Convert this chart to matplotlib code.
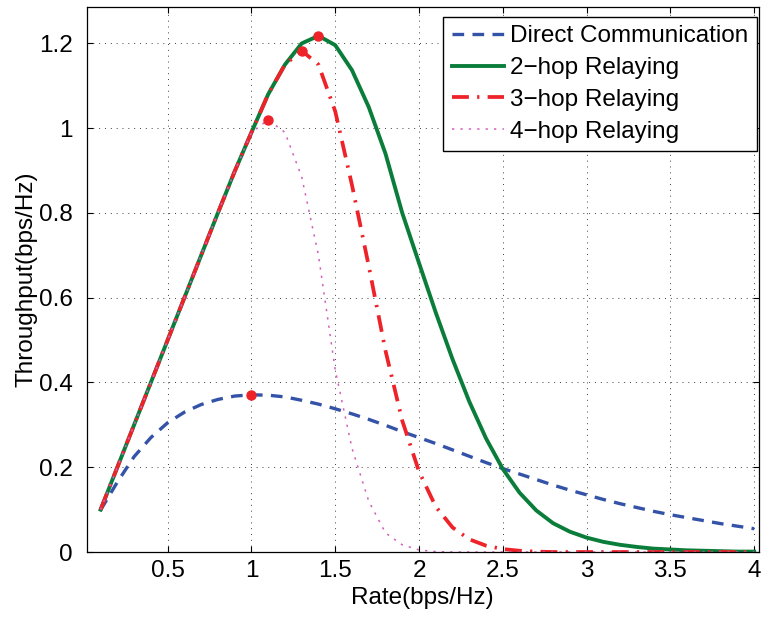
import numpy as np
import matplotlib
matplotlib.use('Agg')
import matplotlib.pyplot as plt
from matplotlib.ticker import FormatStrFormatter

# rate axis, 0.1 .. 4.0 (bps/Hz)
rate = np.round(np.arange(1, 41) * 0.1, 1)

# throughput curves
direct = [0.099, 0.165, 0.225, 0.27, 0.305, 0.33, 0.348, 0.36, 0.368, 0.371,
          0.37, 0.366, 0.358, 0.349, 0.338, 0.326, 0.313, 0.299, 0.284, 0.27,
          0.256, 0.241, 0.226, 0.211, 0.197, 0.184, 0.171, 0.158, 0.146, 0.135,
          0.124, 0.114, 0.105, 0.096, 0.088, 0.081, 0.074, 0.067, 0.061, 0.055]
hop2 = [0.1, 0.2, 0.3, 0.4, 0.5, 0.6, 0.7, 0.8, 0.898, 0.99,
        1.08, 1.15, 1.2, 1.218, 1.196, 1.137, 1.05, 0.94, 0.80, 0.682,
        0.565, 0.455, 0.355, 0.268, 0.196, 0.14, 0.098, 0.068, 0.048, 0.034,
        0.024, 0.017, 0.012, 0.008, 0.006, 0.004, 0.003, 0.002, 0.001, 0.001]
hop3 = [0.1, 0.2, 0.3, 0.4, 0.5, 0.6, 0.7, 0.8, 0.898, 0.99,
        1.08, 1.15, 1.183, 1.15, 1.04, 0.866, 0.675, 0.475, 0.31, 0.19,
        0.107, 0.058, 0.03, 0.015, 0.007, 0.003, 0.001, 0.0, 0.0, 0.0,
        0.0, 0.0, 0.0, 0.0, 0.0, 0.0, 0.0, 0.0, 0.0, 0.0]
hop4 = [0.1, 0.2, 0.3, 0.4, 0.5, 0.6, 0.7, 0.8, 0.898, 0.99,
        1.02, 0.99, 0.885, 0.70, 0.43, 0.245, 0.12, 0.045, 0.017, 0.005,
        0.001, 0.0, 0.0, 0.0, 0.0, 0.0, 0.0, 0.0, 0.0, 0.0,
        0.0, 0.0, 0.0, 0.0, 0.0, 0.0, 0.0, 0.0, 0.0, 0.0]

labels = ['Direct Communication', '2\u2212hop Relaying', '3\u2212hop Relaying', '4\u2212hop Relaying']
xticks = [0.5, 1, 1.5, 2, 2.5, 3, 3.5, 4]
yticks = [0, 0.2, 0.4, 0.6, 0.8, 1, 1.2]

plt.rcParams['font.family'] = ['Liberation Sans', 'DejaVu Sans']
plt.rcParams['font.size'] = 17.5

fig = plt.figure(figsize=(7.65, 6.19), dpi=100)
ax = fig.add_axes([0.1133, 0.1082, 0.8787, 0.8805])

ax.plot(rate, direct, color='#3453a8', lw=2.4, dashes=(3.5, 2.5), label=labels[0])
ax.plot(rate, hop2, color='#0b7d3b', lw=2.8, label=labels[1])
ax.plot(rate, hop3, color='#ee2229', lw=2.7, dashes=(4.5, 2.2, 0.6, 2.2), label=labels[2])
ax.plot(rate, hop4, color='#d35fbd', lw=1.1, dashes=(1.5, 4), label=labels[3])

# mark the peak of each curve
for y in (direct, hop2, hop3, hop4):
    i = int(np.argmax(y))
    ax.plot(rate[i], y[i], 'o', color='#ee2229', ms=6.5, zorder=5)

ax.set_xlim(0.017, 4.028)
ax.set_ylim(0, 1.286)
ax.set_xticks(xticks)
ax.set_yticks(yticks)
ax.xaxis.set_major_formatter(FormatStrFormatter('%g'))
ax.yaxis.set_major_formatter(FormatStrFormatter('%g'))
ax.tick_params(direction='in', length=4, width=0.8, top=True, right=True)
ax.tick_params(axis='y', pad=10)
ax.tick_params(axis='x', pad=6)
ax.grid(True, color='0.25', linestyle=(0, (1, 5)), linewidth=0.7)
for s in ax.spines.values():
    s.set_linewidth(0.9)

ax.set_xlabel('Rate(bps/Hz)', labelpad=3)
ax.set_ylabel('Throughput(bps/Hz)', labelpad=1)

leg = ax.legend(loc='upper right', bbox_to_anchor=(0.997, 0.982), borderaxespad=0,
                fancybox=False, framealpha=1, edgecolor='black', handlelength=2.15,
                handletextpad=0.25, labelspacing=0.4, borderpad=0.35)
leg.get_frame().set_linewidth(1.0)

fig.savefig('out.png', dpi=100)
